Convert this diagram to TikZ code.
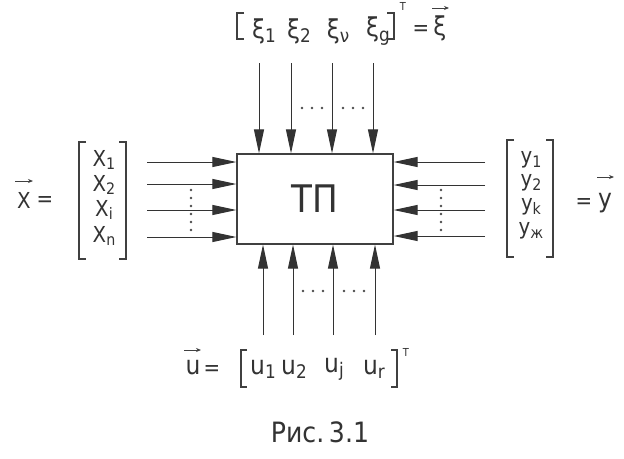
\documentclass[tikz,border=0pt]{standalone}
\usepackage{fontspec}
\setmainfont{DejaVu Sans Condensed}
\usetikzlibrary{arrows.meta}
\newcommand\lowsub[1]{\raisebox{-0.3ex}{\scalebox{0.72}{#1}}}
\begin{document}
\begin{tikzpicture}[x=1pt,y=-1pt,
  ln/.style={draw=black!80, line width=1pt},
  inarrow/.style={ln, -{Triangle[length=24pt,width=10pt]}},
  lbl/.style={inner sep=0pt, text=black!80, font=\fontsize{22}{22}\selectfont},
  big/.style={inner sep=0pt, text=black!80, font=\fontsize{26}{26}\selectfont},
  brk/.style={line width=1.1pt, draw=black!75},
  vecar/.style={draw=black!75, line width=1pt, -{Stealth[length=5pt,width=4pt]}},
  dotf/.style={fill=black!70}
]
\useasboundingbox[fill=white] (0,0) rectangle (624,458);

% main block
\node[draw=black!75, line width=1.2pt, minimum width=156pt, minimum height=90pt,
      text=black!80, font=\fontsize{38}{38}\selectfont] (tp) at (315,199) {ТП};

% free ends of input connectors
\foreach \n/\x in {1/259,2/291,3/332,4/373} \coordinate (t\n) at (\x,63);
\foreach \n/\x in {1/263,2/293,3/333,4/375} \coordinate (b\n) at (\x,335);
\foreach \n/\y in {1/162,2/184,3/210,4/237} \coordinate (l\n) at (147,\y);
\foreach \n/\y in {1/162,2/185,3/210,4/236} \coordinate (r\n) at (485,\y);

\foreach \n in {1,2,3,4} {
  \draw[inarrow] (t\n) -- (t\n |- tp.north);
  \draw[inarrow] (b\n) -- (b\n |- tp.south);
  \draw[inarrow] (l\n) -- (l\n -| tp.west);
  \draw[inarrow] (r\n) -- (r\n -| tp.east);
}

% dots
\foreach \x in {302,312,322,343,353,363} {
  \fill[dotf] (\x,108) circle (1.3pt);
  \fill[dotf] (\x+1,291) circle (1.3pt);
}
\foreach \y in {190,198,206,214,222,230} {
  \fill[dotf] (191,\y) circle (1.3pt);
  \fill[dotf] (441,\y) circle (1.3pt);
}

% top vector xi
\node[big] (xi1) at (264,31) {ξ\lowsub{1}};
\node[big] (xi2) at (299,31) {ξ\lowsub{2}};
\node[big] (xi3) at (338,31) {ξ\lowsub{ν}};
\node[big] (xi4) at (378,31) {ξ\lowsub{g}};
\draw[brk] (244,13) -- (237,13) -- (237,39) -- (244,39);
\draw[brk] (387,13) -- (394,13) -- (394,39) -- (387,39);
\node[inner sep=0pt, text=black!80, font=\fontsize{11}{11}\selectfont] (tt) at (403,6) {T};
\node[lbl] (eqxi) at (421,31) {=};
\node[big] (xiv) at (440,28) {ξ};
\draw[vecar] (432,8) -- (449,8);

% left vector X
\node[lbl] (xv) at (24,200) {X};
\draw[vecar] (15,181) -- (33,181);
\node[lbl] (eqx) at (45,202) {=};
\node[lbl] (x1) at (104,160) {X\lowsub{1}};
\node[lbl] (x2) at (104,185) {X\lowsub{2}};
\node[lbl] (x3) at (104,210) {X\lowsub{i}};
\node[lbl] (x4) at (104,236) {X\lowsub{n}};
\draw[brk] (86,142) -- (79,142) -- (79,259) -- (86,259);
\draw[brk] (119,142) -- (126,142) -- (126,259) -- (119,259);

% right vector y
\node[lbl] (y1) at (531,160) {y\lowsub{1}};
\node[lbl] (y2) at (531,183) {y\lowsub{2}};
\node[lbl] (y3) at (531,207) {y\lowsub{k}};
\node[lbl] (y4) at (531,231) {y\lowsub{ж}};
\draw[brk] (514,140) -- (507,140) -- (507,257) -- (514,257);
\draw[brk] (546,140) -- (553,140) -- (553,257) -- (546,257);
\node[lbl] (eqy) at (584,204) {=};
\node[big] (yv) at (605,203) {y};
\draw[vecar] (597,177) -- (614,177);

% bottom vector u
\node[big] (uv) at (193,367) {u};
\draw[vecar] (184,350) -- (201,350);
\node[lbl] (equ) at (212,371) {=};
\node[big] (u1) at (263,369) {u\lowsub{1}};
\node[big] (u2) at (294,369) {u\lowsub{2}};
\node[big] (u3) at (334,369) {u\lowsub{j}};
\node[big] (u4) at (374,369) {u\lowsub{r}};
\draw[brk] (247,350) -- (241,350) -- (241,387) -- (247,387);
\draw[brk] (391,350) -- (397,350) -- (397,387) -- (391,387);
\node[inner sep=0pt, text=black!80, font=\fontsize{11}{11}\selectfont] (tb) at (406,352) {T};

% caption
\node[inner sep=0pt, text=black!80, font=\fontsize{28}{28}\selectfont] (cap) at (320,432) {Рис.\,3.1};
\end{tikzpicture}
\end{document}
